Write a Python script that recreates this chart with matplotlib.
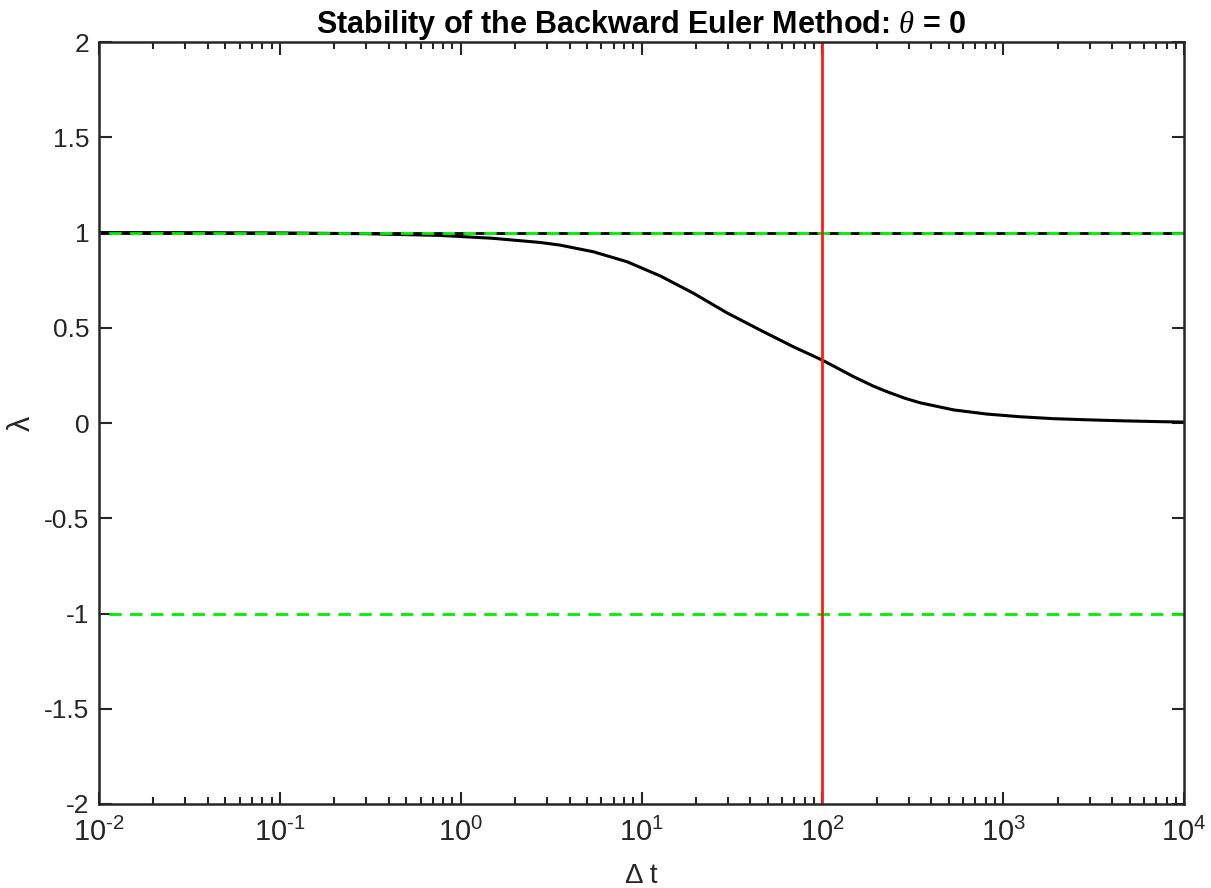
import matplotlib.pyplot as plt
import matplotlib
from matplotlib.ticker import FixedLocator, FixedFormatter, LogLocator, NullFormatter

matplotlib.rcParams.update({
    'font.family': ['Liberation Sans', 'DejaVu Sans'],
    'font.size': 19,
    'mathtext.fontset': 'custom',
    'mathtext.rm': 'Liberation Sans',
    'mathtext.it': 'Liberation Serif:italic',
    'mathtext.bf': 'Liberation Sans:bold',
})

# valores
dt = [1e-2, 3e-2, 1e-1, 3e-1, 0.77, 1.5, 2.75, 3.55, 5.42, 8.3, 12.7, 19.4,
      29.6, 45.3, 69.2, 100.0, 149.0, 190.0, 227.0, 286.0, 348.0, 531.0, 813.0,
      1242.0, 1892.0, 2904.0, 4437.0, 6761.0, 1e4]
lam = [1.0, 0.9995, 0.998, 0.994, 0.985, 0.97, 0.948, 0.934, 0.899, 0.847,
       0.772, 0.681, 0.579, 0.488, 0.40, 0.33, 0.243, 0.195, 0.165, 0.13, 0.106,
       0.069, 0.047, 0.033, 0.023, 0.017, 0.012, 0.008, 0.005]

dt_lim = [1e-2, 1e4]
lam_lim = [-2, 2]
dt_crit = 100
lam_bounds = [1, -1]
x_ticks = [1e-2, 1e-1, 1e0, 1e1, 1e2, 1e3, 1e4]
x_ticklabels = [r'$\mathdefault{10^{\text{-}2}}$', r'$\mathdefault{10^{\text{-}1}}$',
                r'$\mathdefault{10^{0}}$', r'$\mathdefault{10^{1}}$',
                r'$\mathdefault{10^{2}}$', r'$\mathdefault{10^{3}}$',
                r'$\mathdefault{10^{4}}$']
y_ticks = [-2, -1.5, -1, -0.5, 0, 0.5, 1, 1.5, 2]
y_ticklabels = ['-2', '-1.5', '-1', '-0.5', '0', '0.5', '1', '1.5', '2']

gris = '#262626'

fig = plt.figure(figsize=(12.11, 8.88), dpi=100)
ax = fig.add_axes([0.0818, 0.0946, 0.896, 0.858])

ax.plot(dt_lim, [1, 1], color='black', linestyle=(0, (4.5, 3)), linewidth=2)
ax.plot(dt, lam, color='black', linewidth=2.2)
for b in lam_bounds:
    ax.plot(dt_lim, [b, b], color='#00ee00', linestyle=(4, (4.5, 3)), linewidth=2)
ax.plot([dt_crit, dt_crit], lam_lim, color='#ff1a1a', linewidth=2)

ax.set_xscale('log')
ax.set_xlim(dt_lim)
ax.set_ylim(lam_lim)
ax.xaxis.set_major_locator(FixedLocator(x_ticks))
ax.xaxis.set_major_formatter(FixedFormatter(x_ticklabels))
ax.xaxis.set_minor_locator(LogLocator(base=10, subs=range(2, 10), numticks=20))
ax.xaxis.set_minor_formatter(NullFormatter())
ax.set_yticks(y_ticks)
ax.set_yticklabels(y_ticklabels)

ax.tick_params(which='both', direction='in', top=True, right=True, width=1.5,
               color=gris, labelcolor=gris)
ax.tick_params(which='major', length=9)
ax.tick_params(which='minor', length=5)
ax.tick_params(axis='x', which='major', pad=10, labelsize=21)
ax.tick_params(axis='y', which='major', pad=7)
for s in ax.spines.values():
    s.set_linewidth(1.8)
    s.set_color(gris)

ax.set_xlabel('Δ t', fontsize=20, color=gris)
ax.xaxis.set_label_coords(0.5, -0.078)
ax.set_ylabel('λ', fontsize=22, color=gris)
ax.yaxis.set_label_coords(-0.057, 0.5)
ax.set_title(r'Stability of the Backward Euler Method: $\mathit{\theta}$ = 0',
             fontweight='bold', fontsize=22, pad=5)

fig.savefig('out.png', dpi=100)
